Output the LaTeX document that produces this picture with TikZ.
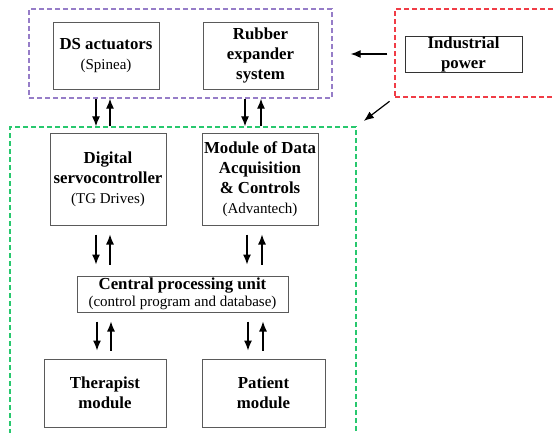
\documentclass[tikz,border=0pt]{standalone}
\usepackage{fontspec}
\setmainfont{Liberation Serif}
\usetikzlibrary{arrows.meta}

\definecolor{grpviolet}{RGB}{150,125,200}
\definecolor{grpred}{RGB}{240,60,70}
\definecolor{grpgreen}{RGB}{40,200,110}
\definecolor{boxgray}{RGB}{90,90,90}

\newcommand{\ttl}[1]{{\fontsize{16.8}{20}\selectfont\bfseries #1}}

\tikzset{
  box/.style={draw=boxgray, line width=1pt, align=center, inner sep=0pt,
    font=\fontsize{15}{20}\selectfont},
  grp/.style={line width=1.3pt, dash pattern=on 5pt off 3pt, inner sep=0pt},
  arr/.style={-{Latex[length=10pt,width=8pt]}, line width=1.2pt},
}

\begin{document}
\begin{tikzpicture}[x=1pt,y=-1pt]
\clip (0,0) rectangle (554,432);

% dashed groups
\node[grp, draw=grpviolet, minimum width=303pt, minimum height=89pt] (grpA) at (180.5,53.5) {};
\node[grp, draw=grpred, minimum width=175pt, minimum height=88pt] (grpP) at (482.5,53) {};
\node[grp, draw=grpgreen, minimum width=346pt, minimum height=318pt] (grpB) at (183,286) {};

% blocks
\node[box, minimum width=106pt, minimum height=67pt] (ds) at (106,55.5) {\ttl{DS actuators}\\(Spinea)};
\node[box, minimum width=115pt, minimum height=67pt] (rub) at (260.5,55.5) {\ttl{Rubber}\\\ttl{expander}\\\ttl{system}};
\node[box, draw=black!80, minimum width=117pt, minimum height=36pt] (ind) at (463.5,54) {\ttl{Industrial}\\\ttl{power}};
\node[box, minimum width=116pt, minimum height=92pt] (dsc) at (108,179) {\ttl{Digital}\\\ttl{servocontroller}\\(TG Drives)};
\node[box, minimum width=116pt, minimum height=92pt] (daq) at (260,179) {\ttl{Module of Data}\\\ttl{Acquisition}\\\ttl{\& Controls}\\(Advantech)};
\node[box, minimum width=211pt, minimum height=36pt] (cpu) at (182.5,294) {\ttl{Central processing unit}\\[-3pt](control program and database)};
\node[box, minimum width=122pt, minimum height=68pt] (ther) at (105,393) {\ttl{Therapist}\\\ttl{module}};
\node[box, minimum width=123pt, minimum height=68pt] (pat) at (263.5,393) {\ttl{Patient}\\\ttl{module}};

% power
\draw[arr, shorten <=7pt, shorten >=18pt] (grpP.west |- ind.west) -- (grpA.east |- ind.west);
\draw[arr, shorten <=6pt, shorten >=9pt] (grpP.south west) -- (grpB.north east);

% actuators <-> control
\draw[arr] (grpA.south -| 96,0) -- (grpB.north -| 96,0);
\draw[arr] (grpB.north -| 110,0) -- (grpA.south -| 110,0);
\draw[arr] (grpA.south -| 245,0) -- (grpB.north -| 245,0);
\draw[arr] (grpB.north -| 261,0) -- (grpA.south -| 261,0);

% modules <-> cpu
\draw[arr, shorten <=9pt, shorten >=11pt] (dsc.south -| 96,0) -- (cpu.north -| 96,0);
\draw[arr, shorten <=11pt, shorten >=9pt] (cpu.north -| 110,0) -- (dsc.south -| 110,0);
\draw[arr, shorten <=9pt, shorten >=11pt] (daq.south -| 247,0) -- (cpu.north -| 247,0);
\draw[arr, shorten <=11pt, shorten >=9pt] (cpu.north -| 262,0) -- (daq.south -| 262,0);

% cpu <-> user modules
\draw[arr, shorten <=9pt, shorten >=8pt] (cpu.south -| 97,0) -- (ther.north -| 97,0);
\draw[arr, shorten <=8pt, shorten >=9pt] (ther.north -| 111,0) -- (cpu.south -| 111,0);
\draw[arr, shorten <=9pt, shorten >=8pt] (cpu.south -| 248,0) -- (pat.north -| 248,0);
\draw[arr, shorten <=8pt, shorten >=9pt] (pat.north -| 263,0) -- (cpu.south -| 263,0);
\end{tikzpicture}
\end{document}
